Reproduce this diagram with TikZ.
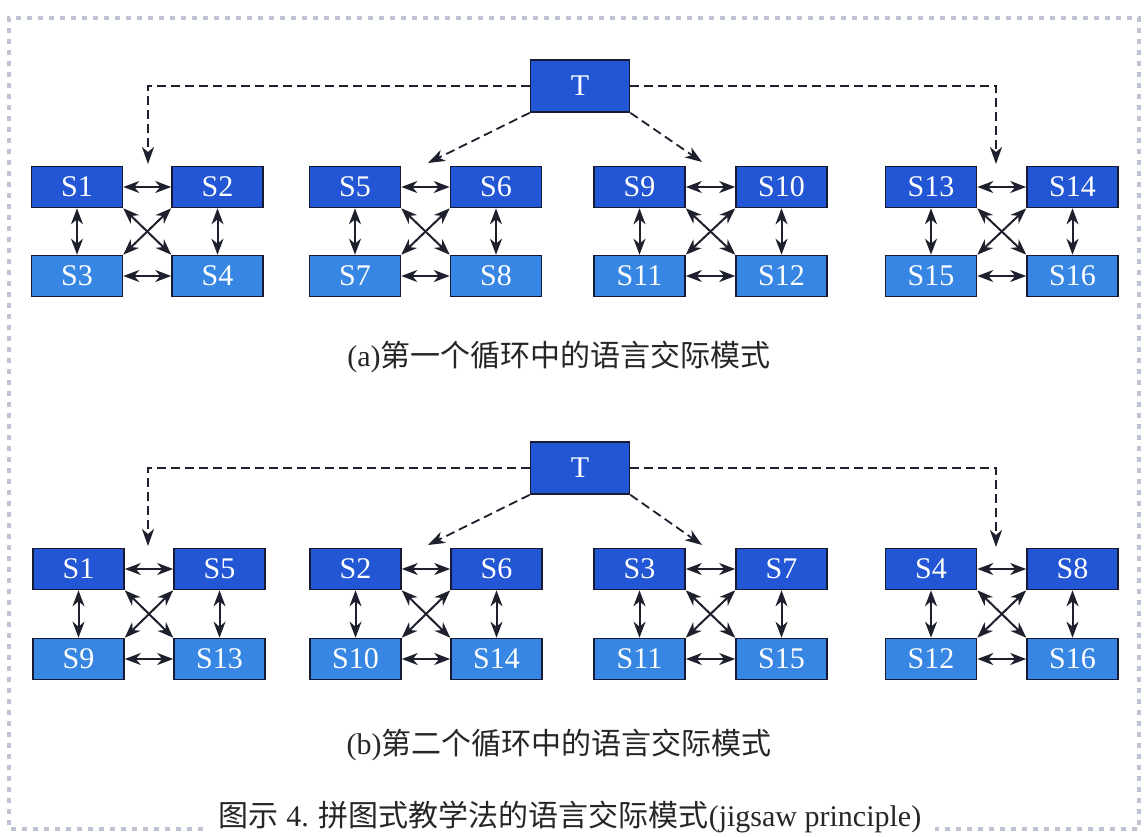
\documentclass[tikz,border=0pt]{standalone}
\usepackage{fontspec}
\setmainfont{Liberation Serif}
\newfontfamily\cjk{Noto Sans CJK SC}
\usetikzlibrary{arrows.meta}
\definecolor{boxA}{RGB}{34,86,212}
\definecolor{boxB}{RGB}{56,134,228}
\definecolor{edgec}{RGB}{22,26,50}
\definecolor{arrc}{RGB}{30,32,45}
\definecolor{framec}{RGB}{190,195,212}
\begin{document}
\begin{tikzpicture}[x=1pt,y=-1pt,
 sbox/.style={draw=edgec,line width=1.6pt,minimum width=91pt,minimum height=41pt,inner sep=0pt,text=white,font=\fontsize{30}{30}\selectfont},
 upper/.style={sbox,fill=boxA},
 lower/.style={sbox,fill=boxB},
 tbox/.style={sbox,fill=boxA,minimum width=99pt,minimum height=52pt},
 link/.style={{Stealth[length=16pt,width=12pt,inset=5pt]}-{Stealth[length=16pt,width=12pt,inset=5pt]},line width=2pt,draw=arrc},
 lead/.style={-{Stealth[length=17pt,width=12pt,inset=5pt]},dash pattern=on 9pt off 5pt,line width=1.8pt,draw=arrc},
 framel/.style={draw=framec,line width=3.5pt,dash pattern=on 5pt off 6pt},
 captext/.style={font=\fontsize{30}{30}\selectfont,text=black!85}
]
\useasboundingbox (0,0) rectangle (1146,836);
\fill[white] (0,0) rectangle (1146,836);

% decorative frame
\draw[framel] (203,829) -- (9,829) -- (9,18) -- (1139,18) -- (1139,829) -- (935,829);

% ---------- panel (a) ----------
\node[tbox] (pT) at (580,86) {T};
\foreach \g/\xa/\xb/\a/\b/\c/\d in {1/77/217.5/S1/S2/S3/S4,2/355/496/S5/S6/S7/S8,3/639.5/781.5/S9/S10/S11/S12,4/931/1072.5/S13/S14/S15/S16}{
  \node[upper] (p\g a) at (\xa,187) {\a};
  \node[upper] (p\g b) at (\xb,187) {\b};
  \node[lower] (p\g c) at (\xa,276) {\c};
  \node[lower] (p\g d) at (\xb,276) {\d};
  \draw[link] (p\g a) -- (p\g b);
  \draw[link] (p\g c) -- (p\g d);
  \draw[link] (p\g a) -- (p\g c);
  \draw[link] (p\g b) -- (p\g d);
  \draw[link] (p\g a.south east) -- (p\g d.north west);
  \draw[link] (p\g b.south west) -- (p\g c.north east);
}
\coordinate (pL) at (148,86);
\coordinate (pLe) at (148,164);
\coordinate (pR) at (996,86);
\coordinate (pRe) at (996,164);
\coordinate (pM1) at (428,163);
\coordinate (pM2) at (702,162);
\draw[lead] (pT.west) -- (pL) -- (pLe);
\draw[lead] (pT.east) -- (pR) -- (pRe);
\draw[lead] (pT.south west) -- (pM1);
\draw[lead] (pT.south east) -- (pM2);
\node[captext] (capa) at (559,357) {(a){\cjk 第一个循环中的语言交际模式}};

% ---------- panel (b) ----------
\node[tbox] (qT) at (580,468) {T};
\foreach \g/\xa/\xb/\a/\b/\c/\d in {1/78.5/219.5/S1/S5/S9/S13,2/355.5/496.5/S2/S6/S10/S14,3/639.5/781.5/S3/S7/S11/S15,4/931/1072.5/S4/S8/S12/S16}{
  \node[upper] (q\g a) at (\xa,569) {\a};
  \node[upper] (q\g b) at (\xb,569) {\b};
  \node[lower] (q\g c) at (\xa,659) {\c};
  \node[lower] (q\g d) at (\xb,659) {\d};
  \draw[link] (q\g a) -- (q\g b);
  \draw[link] (q\g c) -- (q\g d);
  \draw[link] (q\g a) -- (q\g c);
  \draw[link] (q\g b) -- (q\g d);
  \draw[link] (q\g a.south east) -- (q\g d.north west);
  \draw[link] (q\g b.south west) -- (q\g c.north east);
}
\coordinate (qL) at (148,468);
\coordinate (qLe) at (148,546);
\coordinate (qR) at (996,468);
\coordinate (qRe) at (996,547);
\coordinate (qM1) at (428,545);
\coordinate (qM2) at (702,545);
\draw[lead] (qT.west) -- (qL) -- (qLe);
\draw[lead] (qT.east) -- (qR) -- (qRe);
\draw[lead] (qT.south west) -- (qM1);
\draw[lead] (qT.south east) -- (qM2);
\node[captext] (capb) at (559,745) {(b){\cjk 第二个循环中的语言交际模式}};

% main caption
\node[font=\fontsize{30}{30}\selectfont,text=black!85] (mainc) at (570,817) {{\cjk 图示} 4. {\cjk 拼图式教学法的语言交际模式}(jigsaw principle)};
\end{tikzpicture}
\end{document}
